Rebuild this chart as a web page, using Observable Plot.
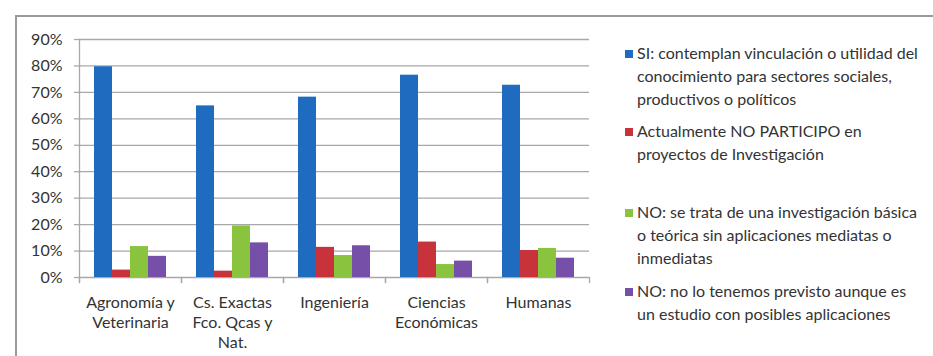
<!DOCTYPE html>
<html>
<head>
<meta charset="utf-8">
<script src="https://cdn.jsdelivr.net/npm/d3@7"></script>
<script src="https://cdn.jsdelivr.net/npm/@observablehq/plot@0.6"></script>
<style>
  html, body { margin: 0; padding: 0; background: #fff; }
  #wrap { position: relative; width: 933px; height: 356px; overflow: hidden; font-family: Lato, "Open Sans", sans-serif; }
  #frame { position: absolute; left: 15px; top: 15px; width: 940px; height: 360px; border-left: 2px solid #9a9a9a; border-top: 2px solid #9a9a9a; }
  #chart { position: absolute; left: 0; top: 0; }
  #legend { position: absolute; left: 625px; top: 41px; width: 310px; font-size: 16px; line-height: 23px; color: #333; }
  .item { position: relative; padding-left: 12px; }
  .sw { position: absolute; left: 0; top: 9px; width: 8px; height: 8px; }
</style>
</head>
<body>
<div id="wrap">
  <div id="frame"></div>
  <div id="chart"></div>
  <div id="legend"></div>
</div>
<script>
const categories = ["Agronomía y Veterinaria", "Cs. Exactas Fco. Qcas y Nat.", "Ingeniería", "Ciencias Económicas", "Humanas"];
const categoryLabels = ["Agronomía y\nVeterinaria", "Cs. Exactas\nFco. Qcas y\nNat.", "Ingeniería", "Ciencias\nEconómicas", "Humanas"];
const series = [
  "SI: contemplan vinculación o utilidad del conocimiento para sectores sociales, productivos o políticos",
  "Actualmente NO PARTICIPO en proyectos de Investigación",
  "NO: se trata de una investigación básica o teórica sin aplicaciones mediatas o inmediatas",
  "NO: no lo tenemos previsto aunque es un estudio con posibles aplicaciones"
];
const seriesLines = [
  ["SI: contemplan vinculación o utilidad del", "conocimiento para sectores sociales,", "productivos o políticos"],
  ["Actualmente NO PARTICIPO en", "proyectos de Investigación"],
  ["NO: se trata de una investigación básica", "o teórica sin aplicaciones mediatas o", "inmediatas"],
  ["NO: no lo tenemos previsto aunque es", "un estudio con posibles aplicaciones"]
];
const siValues = [0.797, 0.649, 0.682, 0.765, 0.727];
const noParticipoValues = [0.028, 0.024, 0.114, 0.134, 0.102];
const basicaValues = [0.117, 0.195, 0.083, 0.049, 0.110];
const previstoValues = [0.080, 0.131, 0.120, 0.062, 0.073];
const yTicks = [0, 0.1, 0.2, 0.3, 0.4, 0.5, 0.6, 0.7, 0.8, 0.9];
const colors = ["#1f6bbf", "#c8323a", "#8ac43f", "#7650a8"];

const seriesValues = [siValues, noParticipoValues, basicaValues, previstoValues];
const data = [];
categories.forEach((c, i) => {
  series.forEach((s, j) => data.push({category: c, series: s, value: seriesValues[j][i]}));
});
const labelOf = new Map(categories.map((c, i) => [c, categoryLabels[i]]));

const gridColor = "#a8a8a8";
const plot = Plot.plot({
  width: 600,
  height: 356,
  marginLeft: 77,
  marginRight: 9,
  marginTop: 39,
  marginBottom: 79,
  style: {fontFamily: "Lato, 'Open Sans', sans-serif", fontSize: "16px", color: "#333", background: "transparent"},
  fx: {domain: categories, padding: 0, label: null},
  x: {domain: series, paddingInner: 0, paddingOuter: 0.74, axis: null},
  y: {domain: [0, 0.9], label: null},
  color: {domain: series, range: colors},
  marks: [
    Plot.ruleY(yTicks, {stroke: gridColor, strokeWidth: 1.3, strokeOpacity: 1}),
    Plot.frame({anchor: "left", stroke: gridColor, strokeWidth: 1.3, strokeOpacity: 1, insetBottom: -5, insetTop: 0, facet: "super"}),
    Plot.barY(data, {fx: "category", x: "series", y: "value", fill: "series", inset: 0}),
    Plot.frame({anchor: "right", stroke: gridColor, strokeWidth: 1.3, strokeOpacity: 1, insetTop: 238, insetBottom: -5}),
    Plot.frame({anchor: "left", stroke: gridColor, strokeWidth: 1.3, strokeOpacity: 1, insetTop: 238, insetBottom: -5}),
    Plot.axisY(yTicks, {tickSize: 5, tickPadding: 12, stroke: gridColor, strokeWidth: 1.3, strokeOpacity: 1, tickFormat: d3.format(".0%"), fill: "#333", label: null}),
    Plot.axisFx({anchor: "bottom", tickSize: 0, tickPadding: 16, tickFormat: d => labelOf.get(d), lineHeight: 1.25, fill: "#333", label: null})
  ]
});
document.getElementById("chart").appendChild(plot);

const legend = document.getElementById("legend");
const gaps = [0, 9, 35, 10];
series.forEach((s, j) => {
  const div = document.createElement("div");
  div.className = "item";
  div.style.marginTop = gaps[j] + "px";
  const sw = document.createElement("span");
  sw.className = "sw";
  sw.style.background = colors[j];
  div.appendChild(sw);
  seriesLines[j].forEach((line) => {
    const ln = document.createElement("div");
    ln.textContent = line;
    div.appendChild(ln);
  });
  legend.appendChild(div);
});
</script>
</body>
</html>
